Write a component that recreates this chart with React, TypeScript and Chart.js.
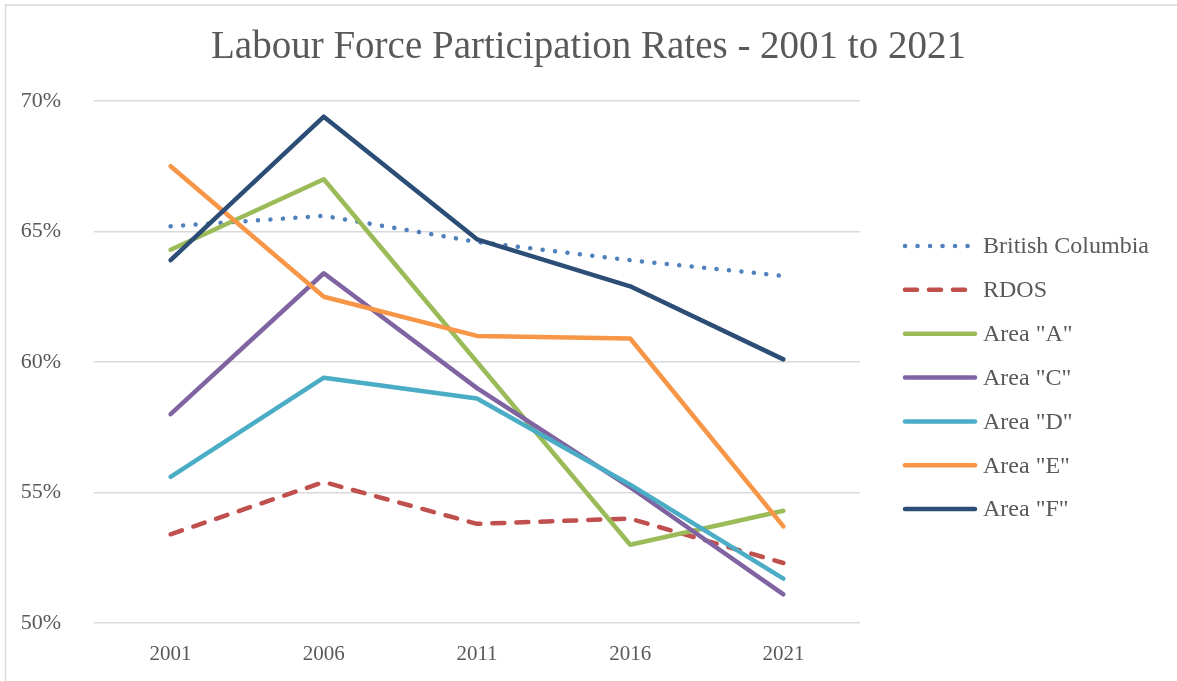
import React, { useEffect, useRef } from "react";
import { Chart, registerables } from "chart.js";

Chart.register(...registerables);

const years = ["2001", "2006", "2011", "2016", "2021"];
const seriesNames = ["British Columbia", "RDOS", 'Area "A"', 'Area "C"', 'Area "D"', 'Area "E"', 'Area "F"'];
const britishColumbia = [65.2, 65.6, 64.6, 63.9, 63.3];
const rdos = [53.4, 55.4, 53.8, 54.0, 52.3];
const areaA = [64.3, 67.0, 60.0, 53.0, 54.3];
const areaC = [58.0, 63.4, 59.0, 55.2, 51.1];
const areaD = [55.6, 59.4, 58.6, 55.3, 51.7];
const areaE = [67.5, 62.5, 61.0, 60.9, 53.7];
const areaF = [63.9, 69.4, 64.7, 62.9, 60.1];
const yTicks = [50, 55, 60, 65, 70];

const colors = ["#4F81BD", "#C0504D", "#9BBB59", "#8064A2", "#4BACC6", "#F79646", "#2C4D75"];
const dashes: number[][] = [[0.1, 12.4], [12, 12], [], [], [], [], []];

const FONT = "'Liberation Serif', 'Times New Roman', serif";
const TEXT = "#595959";

const borderPlugin = {
  id: "frameBorder",
  beforeDraw(chart: any) {
    const ctx = chart.ctx;
    ctx.save();
    ctx.strokeStyle = "#d9d9d9";
    ctx.lineWidth = 1.5;
    ctx.beginPath();
    ctx.moveTo(5.5, chart.height + 2);
    ctx.lineTo(5.5, 5);
    ctx.lineTo(chart.width + 2, 5);
    ctx.stroke();
    ctx.restore();
  },
};

const legendPlugin = {
  id: "sideLegend",
  afterDraw(chart: any) {
    const ctx = chart.ctx;
    const area = chart.chartArea;
    const x0 = area.right + 45;
    const x1 = x0 + 70;
    const tx = x1 + 8;
    const y0 = 246;
    const step = 43.85;
    ctx.save();
    chart.data.datasets.forEach((ds: any, i: number) => {
      const y = y0 + i * step;
      ctx.beginPath();
      ctx.strokeStyle = ds.borderColor;
      ctx.lineWidth = ds.borderWidth;
      ctx.lineCap = "round";
      ctx.setLineDash(ds.borderDash || []);
      ctx.moveTo(x0, y);
      ctx.lineTo(x1, y);
      ctx.stroke();
      ctx.setLineDash([]);
      ctx.fillStyle = TEXT;
      ctx.font = `24px ${FONT}`;
      ctx.textBaseline = "middle";
      ctx.textAlign = "left";
      ctx.fillText(ds.label, tx, y + 1);
    });
    ctx.restore();
  },
};

export default function App() {
  const ref = useRef<HTMLCanvasElement>(null);
  useEffect(() => {
    const values = [britishColumbia, rdos, areaA, areaC, areaD, areaE, areaF];
    const chart = new Chart(ref.current!, {
      type: "line",
      data: {
        labels: years,
        datasets: values.map((v, i) => ({
          label: seriesNames[i],
          data: v,
          borderColor: colors[i],
          backgroundColor: colors[i],
          borderWidth: 4.5,
          borderDash: dashes[i],
          borderCapStyle: "round",
          borderJoinStyle: "round",
          pointRadius: 0,
          tension: 0,
          fill: false,
          order: values.length - i,
        })),
      },
      options: {
        animation: false,
        responsive: true,
        maintainAspectRatio: false,
        layout: { padding: { left: 0, right: 0, top: 0, bottom: 0 } },
        plugins: {
          legend: { display: false },
          tooltip: { enabled: false },
          title: {
            display: true,
            text: "Labour Force Participation Rates - 2001 to 2021",
            color: TEXT,
            font: { family: FONT, size: 39, weight: "normal" },
            padding: { top: 24, bottom: 30.2 },
          },
        },
        scales: {
          x: {
            offset: true,
            grid: { display: false, drawTicks: false },
            border: { display: false },
            ticks: { color: TEXT, font: { family: FONT, size: 21 }, padding: 19 },
            afterFit: (s: any) => {
              s.height = 58;
            },
          },
          y: {
            min: yTicks[0],
            max: yTicks[yTicks.length - 1],
            afterBuildTicks: (s: any) => {
              s.ticks = yTicks.map((v) => ({ value: v }));
            },
            grid: { color: "#d9d9d9", lineWidth: 1.5, drawTicks: false },
            border: { display: false },
            ticks: {
              color: TEXT,
              font: { family: FONT, size: 22 },
              padding: 33,
              callback: (v: any) => `${v}%`,
            },
            afterFit: (s: any) => {
              s.width = 94;
            },
          },
          legendSpace: {
            type: "linear",
            position: "right",
            display: true,
            grid: { display: false, drawTicks: false },
            border: { display: false },
            ticks: { display: false },
            afterFit: (s: any) => {
              s.width = 317;
            },
          },
        },
      },
      plugins: [borderPlugin, legendPlugin],
    });
    return () => chart.destroy();
  }, []);
  return (
    <div style={{ position: "fixed", left: 0, top: 0, width: 1177, height: 681, background: "#fff" }}>
      <canvas ref={ref} />
    </div>
  );
}
